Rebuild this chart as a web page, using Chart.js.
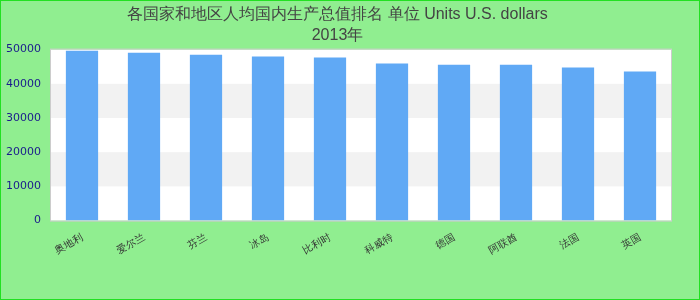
<!DOCTYPE html>
<html>
<head>
<meta charset="utf-8">
<script src="https://cdn.jsdelivr.net/npm/chart.js"></script>
<style>
  body { margin: 0; }
  #wrap { width: 700px; height: 300px; box-sizing: border-box; border: 1px solid #22e022; background: #90ee90; }
</style>
</head>
<body>
<div id="wrap"><canvas id="mychart" width="698" height="298"></canvas></div>
<script>
// datos
const categories = ['奥地利', '爱尔兰', '芬兰', '冰岛', '比利时', '科威特', '德国', '阿联酋', '法国', '英国'];
const values = [49700, 49100, 48500, 48000, 47700, 45900, 45600, 45600, 44800, 43600];
const titleLines = ['各国家和地区人均国内生产总值排名 单位 Units U.S. dollars', '2013年'];

// fondo blanco y bandas grises alternas
const bands = {
    id: 'bands',
    beforeDatasetsDraw(chart) {
        const { ctx, chartArea, scales } = chart;
        const y = scales.y;
        ctx.save();
        ctx.fillStyle = '#ffffff';
        ctx.fillRect(chartArea.left, chartArea.top, chartArea.right - chartArea.left, chartArea.bottom - chartArea.top);
        ctx.fillStyle = '#f2f2f2';
        [[10000, 20000], [30000, 40000]].forEach(([a, b]) => {
            const top = y.getPixelForValue(b);
            const bot = y.getPixelForValue(a);
            ctx.fillRect(chartArea.left, top, chartArea.right - chartArea.left, bot - top);
        });
        ctx.strokeStyle = '#cccccc';
        ctx.lineWidth = 1;
        ctx.strokeRect(chartArea.left - 0.5, chartArea.top - 0.5, chartArea.right - chartArea.left + 1, chartArea.bottom - chartArea.top + 1);
        ctx.restore();
    }
};

const ctx = document.getElementById('mychart');

const mychart = new Chart(ctx, {
    type: 'bar',
    data: {
        labels: categories,
        datasets: [{
            label: 'Valor',
            data: values,
            backgroundColor: '#60a9f5',
            barPercentage: 0.52,
            categoryPercentage: 1
        }]
    },
    options: {
        responsive: false,
        animation: false,
        layout: { padding: { left: 3, right: 28, top: 0, bottom: 39 } },
        plugins: {
            legend: { display: false },
            tooltip: { enabled: false },
            title: {
                display: true,
                text: titleLines,
                color: '#444444',
                font: { family: 'Liberation Sans, Arial', size: 16, weight: 'normal', lineHeight: 1.3 },
                padding: { top: 3, bottom: 4 }
            }
        },
        scales: {
            x: {
                grid: { display: false },
                border: { display: false },
                ticks: {
                    color: '#333333',
                    minRotation: 30,
                    maxRotation: 30,
                    font: { family: 'DejaVu Sans', size: 10 }
                }
            },
            y: {
                min: 0,
                max: 50000,
                grid: { display: false },
                border: { display: false },
                ticks: {
                    stepSize: 10000,
                    padding: 2,
                    color: '#1a1a8c',
                    callback: v => String(v),
                    font: { family: 'DejaVu Sans', size: 11 }
                }
            }
        }
    },
    plugins: [bands]
});
</script>
</body>
</html>
